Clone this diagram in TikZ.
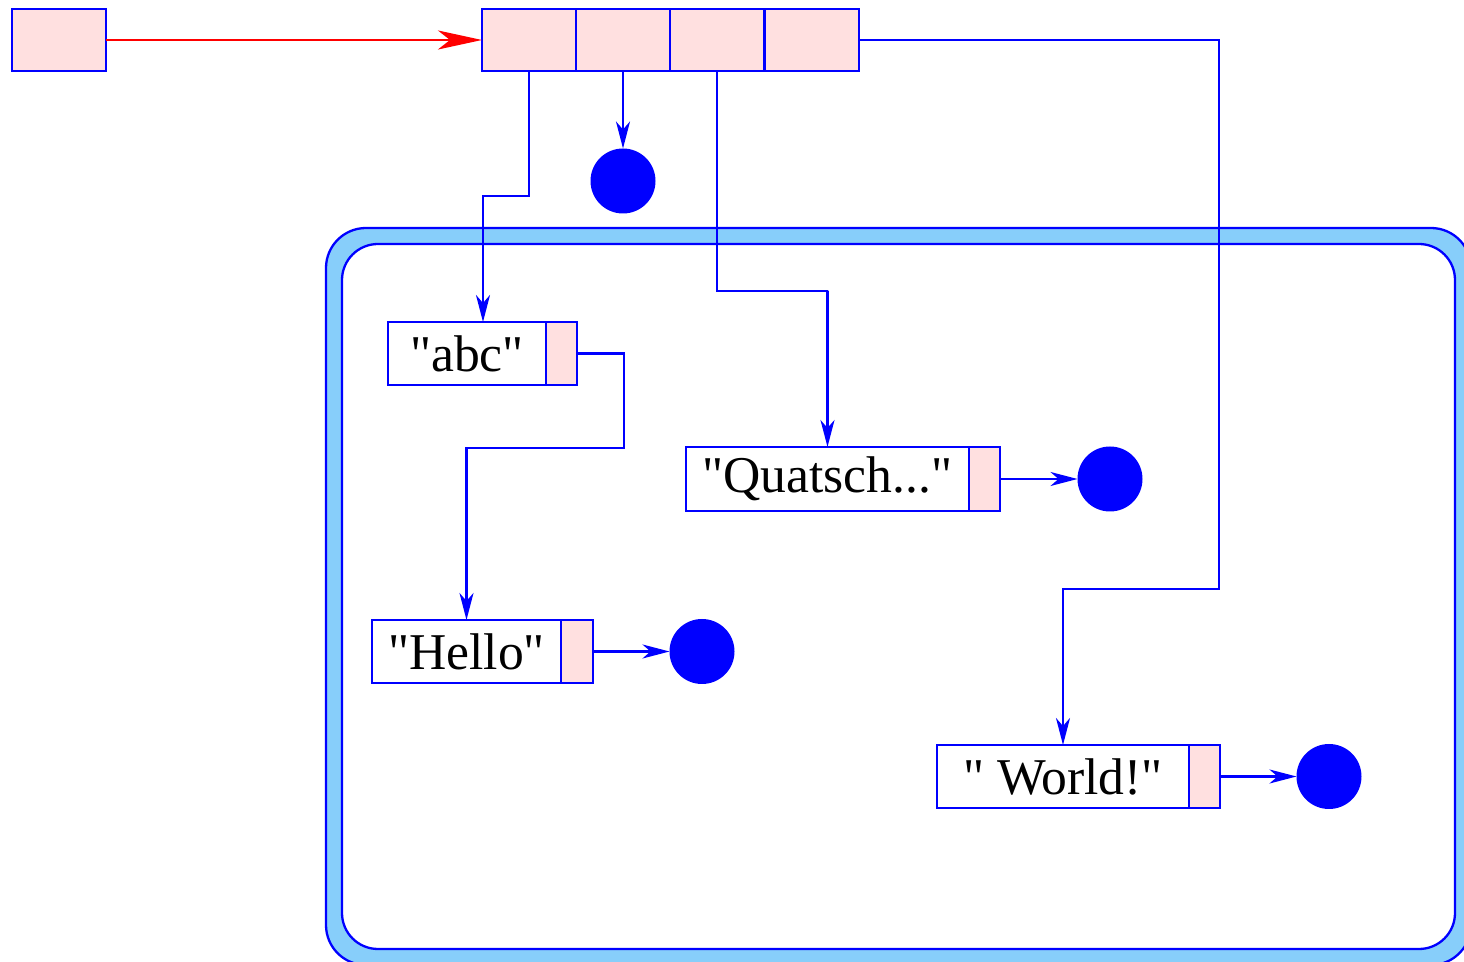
\documentclass[tikz,border=0pt]{standalone}
\usepackage{fontspec}
\setmainfont{Liberation Serif}
\newfontfamily\strfont{Liberation Serif}
\usetikzlibrary{arrows.meta}
\definecolor{pinkc}{RGB}{255,224,224}
\definecolor{skyc}{RGB}{135,206,250}
\newcommand{\sq}{\symbol{34}}
\begin{document}
\begin{tikzpicture}[x=0.5pt,y=-0.5pt,
  cellbox/.style={draw=blue, fill=pinkc, line width=1.15pt, inner sep=0pt, outer sep=0pt, minimum height=31pt},
  txtbox/.style={draw=blue, fill=white, line width=1.15pt, inner sep=0pt, outer sep=0pt, minimum height=31.5pt, font=\strfont\fontsize{25.8}{30}\selectfont},
  dot/.style={circle, fill=blue, draw=none, minimum size=32.5pt, inner sep=0pt, outer sep=0pt},
  arr/.style={draw=blue, line width=1.15pt, -{Stealth[length=13.5pt,width=7pt,inset=4pt]}},
  redarr/.style={draw=red, line width=1.4pt, -{Stealth[length=22pt,width=9.5pt,inset=6pt]}}
]
\useasboundingbox (0,0) rectangle (1464,962);

% container
\draw[draw=blue, fill=skyc, line width=1.15pt, rounded corners=20pt] (326,228) rectangle (1471,965);
\draw[draw=blue, fill=white, line width=1.15pt, rounded corners=18pt] (342,244) rectangle (1455,949);

% top boxes
\node[cellbox, minimum width=47pt] (A) at (59,40) {};
\node[cellbox, minimum width=47pt] (c1) at (529,40) {};
\node[cellbox, minimum width=47pt] (c2) at (623,40) {};
\node[cellbox, minimum width=47pt] (c3) at (717,40) {};
\node[cellbox, minimum width=47pt] (c4) at (812,40) {};

\node[dot] (d0) at (623,181) {};

% string boxes
\node[txtbox, minimum width=79pt] (abcT) at (467,353.5) {\sq abc\sq};
\node[cellbox, minimum width=15.5pt, minimum height=31.5pt] (abcP) at (561.5,353.5) {};

\node[txtbox, minimum width=141.5pt, minimum height=32pt] (qT) at (827.5,479) {\sq Quatsch...\sq};
\node[cellbox, minimum width=15.5pt, minimum height=32pt] (qP) at (984.5,479) {};
\node[dot] (dq) at (1110,479) {};

\node[txtbox, minimum width=94.5pt] (hT) at (466.5,651.5) {\sq Hello\sq};
\node[cellbox, minimum width=16pt, minimum height=31.5pt] (hP) at (577,651.5) {};
\node[dot] (dh) at (702,651.5) {};

\node[txtbox, minimum width=126pt] (wT) at (1063,776.5) {\sq{} World!\sq};
\node[cellbox, minimum width=15.5pt, minimum height=31.5pt] (wP) at (1204.5,776.5) {};
\node[dot] (dw) at (1329,776.5) {};

% bend points
\coordinate (k1) at (483,196);
\coordinate (k2) at (828,291);
\coordinate (k3) at (1219,589);
\coordinate (k5) at (624,448);

% connectors
\draw[redarr] (A.east) -- (c1.west);
\draw[arr] (c1.south) |- (k1) -- (k1 |- abcT.north);
\draw[arr] (c2.south) -- (d0.north);
\draw[arr] (c3.south) |- (k2) -| (qT.north);
\draw[arr] (c4.east) -| (k3) -| (wT.north);
\draw[arr] (abcP.east) -| (k5) -| (hT.north);
\draw[arr] (qP.east) -- (dq.west);
\draw[arr] (hP.east) -- (dh.west);
\draw[arr] (wP.east) -- (dw.west);
\end{tikzpicture}
\end{document}
